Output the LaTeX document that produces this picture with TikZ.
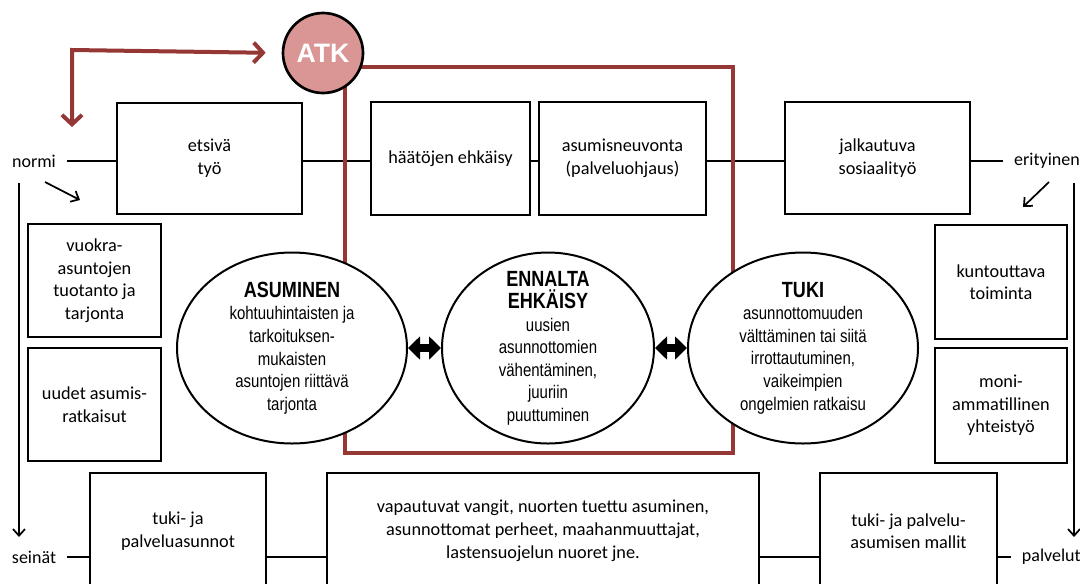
\documentclass[tikz,border=0pt]{standalone}
\usepackage{fontspec}
\setmainfont{Carlito}
\newfontfamily\narrowfont[FakeStretch=0.82]{Liberation Sans}
\newfontfamily\atkfont{Liberation Sans}
\usetikzlibrary{arrows.meta,shapes.geometric}

\definecolor{darkred}{HTML}{953735}
\definecolor{atkpink}{HTML}{D99694}
\newcommand\ovalheadfont{\narrowfont\bfseries\fontsize{16.5}{20}\selectfont}

\tikzset{
  box/.style={draw, line width=1.5pt, fill=white, align=center, inner sep=0pt,
    font=\fontsize{13.7}{16.9}\selectfont},
  side/.style={font=\fontsize{13.5}{16.9}\selectfont, inner xsep=8pt, inner ysep=1pt},
  link/.style={line width=1.5pt},
  oval/.style={draw, ellipse, line width=1.5pt, fill=white, inner sep=0pt},
  ovaltext/.style={align=center, inner sep=0pt,
    font=\narrowfont\fontsize{13.7}{16.9}\selectfont},
  dblarrow/.style={line width=6pt, {Triangle[length=9pt,width=17pt]}-{Triangle[length=9pt,width=17pt]}},
  redframe/.style={draw=darkred, line width=3pt},
  redarrow/.style={darkred, line width=3pt, line join=miter,
    {Straight Barb[length=7pt,width=15pt]}-{Straight Barb[length=7pt,width=15pt]}},
  flow/.style={line width=1.3pt, -{Straight Barb[length=5pt,width=9pt]}},
}

\begin{document}
\begin{tikzpicture}[x=0.75pt,y=-0.75pt]
\useasboundingbox[fill=white] (0,0) rectangle (1080,583);

% side labels
\node[side] (normi) at (34,161) {normi};
\node[side] (erityinen) at (1047,161) {erityinen};
\node[side] (seinat) at (34,557) {seinät};
\node[side, anchor=west] (palvelut) at (1011,557) {palvelut};

% top row of services
\node[box, minimum width=138.75pt, minimum height=83.25pt] (etsiva) at (209.5,158) {etsivä\\työ};
\node[box, minimum width=119.25pt, minimum height=84.75pt] (haato) at (450.5,158.5) {häätöjen ehkäisy};
\node[box, minimum width=125.25pt, minimum height=84.75pt] (neuvonta) at (622.5,158.5) {asumisneuvonta\\(palveluohjaus)};
\node[box, minimum width=138.75pt, minimum height=84pt] (jalkautuva) at (877.5,158) {jalkautuva\\sosiaalityö};

% bottom row of services
\node[box, minimum width=132pt, minimum height=87pt] (palveluasunnot) at (178,531) {tuki- ja\\palveluasunnot};
\node[box, minimum width=324pt, minimum height=87pt] (ryhmat) at (543,531) {\raisebox{3pt}{\begin{tabular}{@{}c@{}}vapautuvat vangit, nuorten tuettu asuminen,\\asunnottomat perheet, maahanmuuttajat,\\lastensuojelun nuoret jne.\end{tabular}}};
\node[box, minimum width=132.75pt, minimum height=87pt] (mallit) at (908.5,531) {tuki- ja palvelu-\\asumisen mallit};

% connecting lines
\draw[link] (normi.east) -- (etsiva.west |- normi.east);
\draw[link] (etsiva.east |- normi.east) -- (haato.west |- normi.east);
\draw[link] (haato.east |- normi.east) -- (neuvonta.west |- normi.east);
\draw[link] (neuvonta.east |- normi.east) -- (jalkautuva.west |- normi.east);
\draw[link] (jalkautuva.east |- normi.east) -- (erityinen.west);
\draw[link] (seinat.east) -- (palveluasunnot.west |- seinat.east);
\draw[link] (palveluasunnot.east |- seinat.east) -- (ryhmat.west |- seinat.east);
\draw[link] (ryhmat.east |- seinat.east) -- (mallit.west |- seinat.east);
\draw[link] (mallit.east |- seinat.east) -- (palvelut.west);

% prevention frame
\draw[redframe] (345,67) rectangle (733,453);

% side boxes
\node[box, minimum width=99.75pt, minimum height=84.75pt] (vuokra) at (94.5,280.5) {vuokra-\\asuntojen\\tuotanto ja\\tarjonta};
\node[box, minimum width=99.75pt, minimum height=84.75pt] (uudet) at (94.5,404.5) {uudet asumis-\\ratkaisut};
\node[box, minimum width=99pt, minimum height=85.5pt] (kuntouttava) at (1001,282) {kuntouttava\\toiminta};
\node[box, minimum width=99pt, minimum height=86.25pt] (moni) at (1001,405.5) {moni-\\ammatillinen\\yhteistyö};

% the three ellipses
\node[oval, minimum width=172.5pt, minimum height=143.25pt] (asuminen) at (292,348) {};
\node[ovaltext] at (asuminen) {{\ovalheadfont ASUMINEN}\\kohtuuhintaisten ja\\tarkoituksen-\\mukaisten\\asuntojen riittävä\\tarjonta};
\node[oval, minimum width=159pt, minimum height=143.25pt] (ennalta) at (548,348) {};
\node[ovaltext] at (ennalta) {{\ovalheadfont ENNALTA}\\{\ovalheadfont EHKÄISY}\\uusien\\asunnottomien\\vähentäminen,\\juuriin\\puuttuminen};
\node[oval, minimum width=172.5pt, minimum height=143.25pt] (tuki) at (803,348) {};
\node[ovaltext] at (tuki) {{\ovalheadfont TUKI}\\asunnottomuuden\\välttäminen tai siitä\\irrottautuminen,\\vaikeimpien\\ongelmien ratkaisu};

\draw[dblarrow] (asuminen.east) -- (ennalta.west);
\draw[dblarrow] (ennalta.east) -- (tuki.west);

% ATK circle and its arrows
\node[circle, draw, line width=2pt, fill=atkpink, minimum size=60pt, inner sep=0pt,
  text=white, font=\atkfont\bfseries\fontsize{20}{22}\selectfont] (atk) at (323,53) {ATK};
\coordinate (corner) at (72,50);
\coordinate (atkdown) at (72,127);
\draw[redarrow, shorten >=12pt] (atkdown) -- (corner) -- (atk.west);

% direction arrows
\coordinate (nstart) at (45,182);
\coordinate (nend) at (80,200);
\coordinate (estart) at (1049,182);
\coordinate (eend) at (1023,207);
\draw[flow] (nstart) -- (nend);
\draw[flow] (estart) -- (eend);
\coordinate (ltop) at (19,183);
\coordinate (lbot) at (19,537);
\coordinate (rtop) at (1074,183);
\coordinate (rbot) at (1074,537);
\draw[flow] (ltop) -- (lbot);
\draw[flow] (rtop) -- (rbot);
\end{tikzpicture}
\end{document}
